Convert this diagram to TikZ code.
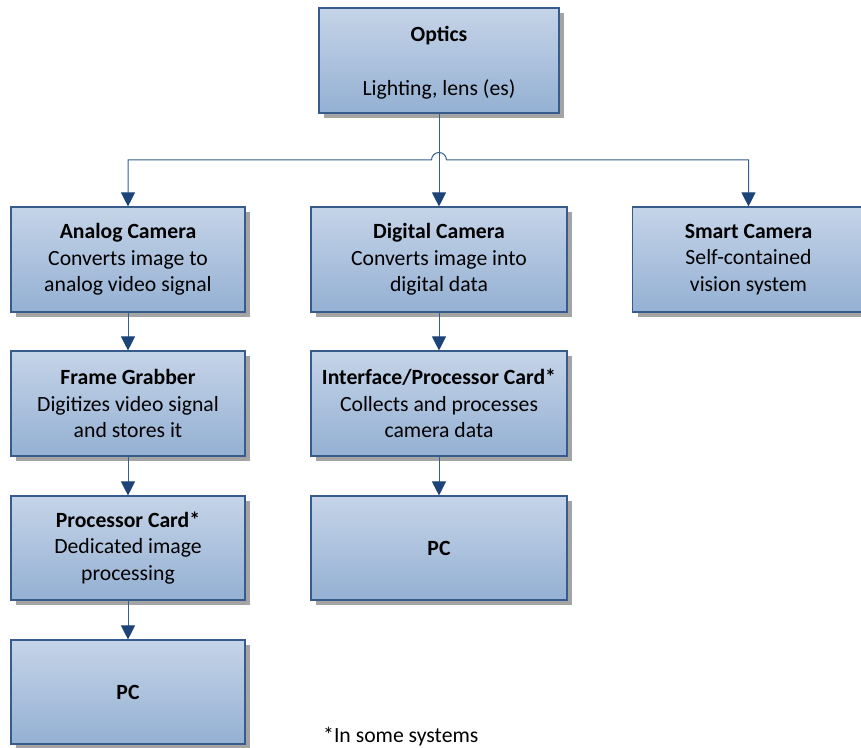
\documentclass[tikz,border=0pt]{standalone}
\usepackage{fontspec}
\setmainfont{Carlito}
\usetikzlibrary{arrows.meta,shadows,calc}

\definecolor{boxtop}{HTML}{C5D4E8}
\definecolor{boxbottom}{HTML}{94B0D3}
\definecolor{boxline}{HTML}{375C8B}
\definecolor{wire}{HTML}{325E90}
\definecolor{tipblue}{HTML}{1C4478}
\definecolor{shade}{HTML}{A4A4A4}

\tikzset{
  block/.style={
    rectangle, draw=boxline, line width=1.1pt,
    top color=boxtop, bottom color=boxbottom,
    drop shadow={shadow xshift=5pt, shadow yshift=-5pt, fill=shade, opacity=1},
    inner sep=0pt, align=center, text=black,
    font=\fontsize{21.7}{26.5}\selectfont,
    minimum height=105pt
  },
  leftcol/.style={block, minimum width=234pt},
  midcol/.style={block, minimum width=256pt},
  link/.style={draw=wire, line width=1pt,
    -{Triangle[width=14pt,length=14pt,color=tipblue]}},
  twolink/.style={draw=wire, line width=1pt,
    {Triangle[width=14pt,length=14pt,color=tipblue]}-{Triangle[width=14pt,length=14pt,color=tipblue]}}
}

\begin{document}
\begin{tikzpicture}[x=1pt,y=1pt]
\useasboundingbox (0,0) rectangle (861,747);

% top block
\node[block, minimum width=240pt] (optics) at (439,686.5)
  {\rule{0pt}{20.5pt}\textbf{Optics}\\[27.5pt]Lighting, lens (es)};

% camera row
\node[leftcol] (analog) at (128,487.5)
  {\textbf{Analog Camera}\\Converts image to\\analog video signal};
\node[midcol] (digital) at (439,487.5)
  {\textbf{Digital Camera}\\Converts image into\\digital data};
\node[block, minimum width=232pt] (smart) at (748.5,487.5)
  {\textbf{Smart Camera}\\Self-contained\\vision system};

% second row
\node[leftcol] (grabber) at (128,343.5)
  {\textbf{Frame Grabber}\\Digitizes video signal\\and stores it};
\node[midcol] (iface) at (439,343.5)
  {\textbf{Interface/Processor Card*}\\Collects and processes\\camera data};

% third row
\node[leftcol, minimum height=104pt] (proc) at (128,199)
  {\textbf{Processor Card*}\\Dedicated image\\processing};
\node[midcol, minimum height=104pt] (pcmid) at (439,199) {\textbf{PC}};

% bottom row
\node[leftcol, minimum height=104pt] (pcleft) at (128,55) {\textbf{PC}};

% footnote
\node[anchor=base west, inner sep=0pt, font=\fontsize{21.7}{26.5}\selectfont] (note) at (323,4.5)
  {*In some systems};

% distribution bus with a hop over the optics drop line
\coordinate (bus) at (0,587);
\coordinate (busleft) at (analog.north |- bus);
\coordinate (busright) at (smart.north |- bus);
\coordinate (hopstart) at ($(optics.south |- bus)+(-7.5,0)$);
\path[twolink] (analog.north) -- (busleft) -- (hopstart)
  arc[start angle=180, end angle=0, radius=7.5] -- (busright) -- (smart.north);

% vertical links
\path[link] (optics.south) -- (digital.north);
\path[link] (analog.south) -- (grabber.north);
\path[link] (grabber.south) -- (proc.north);
\path[link] (proc.south) -- (pcleft.north);
\path[link] (digital.south) -- (iface.north);
\path[link] (iface.south) -- (pcmid.north);
\end{tikzpicture}
\end{document}
